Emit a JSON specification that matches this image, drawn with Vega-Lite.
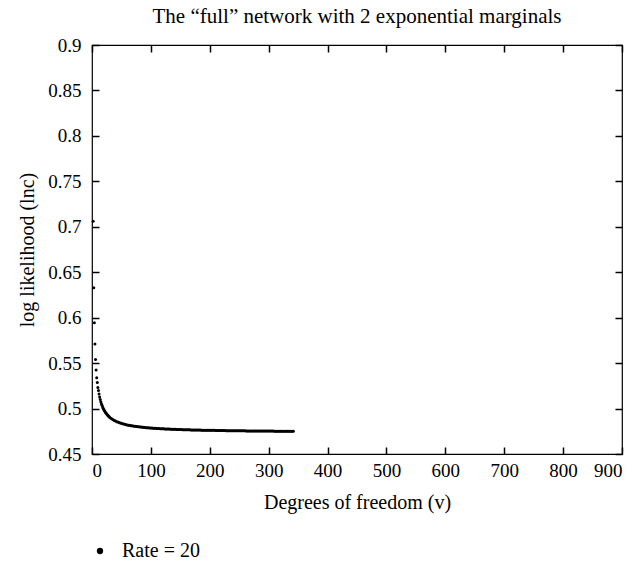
{
  "$schema": "https://vega.github.io/schema/vega-lite/v6.json",
  "width": 530,
  "height": 409,
  "autosize": "none",
  "padding": {"left": 92, "top": 45, "right": 13, "bottom": 111},
  "background": "white",
  "title": {"text": "The “full” network with 2 exponential marginals", "font": "Liberation Serif", "fontSize": 21, "fontWeight": "normal", "color": "black", "offset": 9},
  "config": {
    "view": {"stroke": "black", "strokeWidth": 1.2},
    "axis": {"grid": false, "zindex": 2, "domain": false, "offset": -7, "tickColor": "#000000", "tickOpacity": 1, "tickWidth": 1.5, "ticks": true, "tickSize": 7, "labelColor": "black", "titleColor": "black", "labelFont": "Liberation Serif", "titleFont": "Liberation Serif", "labelFontSize": 19, "titleFontSize": 20, "titleFontWeight": "normal"},
    "legend": {"labelFont": "Liberation Serif", "labelFontSize": 20, "labelColor": "black"}
  },
  "data": {"values": [
    {"df":2,"ll":0.706},{"df":3,"ll":0.633},{"df":4,"ll":0.5945},{"df":5,"ll":0.571},{"df":6,"ll":0.554},{"df":7,"ll":0.5425},{"df":8,"ll":0.534},{"df":9,"ll":0.5286},{"df":10,"ll":0.5232},
    {"df":11,"ll":0.5199},{"df":12,"ll":0.516},{"df":13,"ll":0.5127},{"df":14,"ll":0.5099},{"df":15,"ll":0.5075},{"df":16,"ll":0.5054},{"df":17,"ll":0.5035},{"df":18,"ll":0.5018},{"df":19,"ll":0.5003},{"df":20,"ll":0.499},
    {"df":21,"ll":0.4978},{"df":22,"ll":0.4967},{"df":23,"ll":0.4957},{"df":24,"ll":0.4948},{"df":25,"ll":0.4939},{"df":26,"ll":0.4931},{"df":27,"ll":0.4924},{"df":28,"ll":0.4917},{"df":29,"ll":0.4911},{"df":30,"ll":0.4905},
    {"df":32,"ll":0.4894},{"df":34,"ll":0.4885},{"df":36,"ll":0.4877},{"df":38,"ll":0.4869},{"df":40,"ll":0.4863},{"df":42,"ll":0.4856},{"df":44,"ll":0.4851},{"df":46,"ll":0.4846},{"df":48,"ll":0.4841},{"df":50,"ll":0.4837},
    {"df":52,"ll":0.4833},{"df":54,"ll":0.4829},{"df":56,"ll":0.4826},{"df":58,"ll":0.4823},{"df":60,"ll":0.482},{"df":62,"ll":0.4817},{"df":64,"ll":0.4815},{"df":66,"ll":0.4812},{"df":68,"ll":0.481},{"df":70,"ll":0.4808},
    {"df":72,"ll":0.4806},{"df":74,"ll":0.4804},{"df":76,"ll":0.4802},{"df":78,"ll":0.48},{"df":80,"ll":0.4799},{"df":82,"ll":0.4797},{"df":84,"ll":0.4796},{"df":86,"ll":0.4794},{"df":88,"ll":0.4793},{"df":90,"ll":0.4792},
    {"df":92,"ll":0.479},{"df":94,"ll":0.4789},{"df":96,"ll":0.4788},{"df":98,"ll":0.4787},{"df":100,"ll":0.4786},{"df":102,"ll":0.4785},{"df":104,"ll":0.4784},{"df":106,"ll":0.4783},{"df":108,"ll":0.4782},{"df":110,"ll":0.4781},
    {"df":112,"ll":0.4781},{"df":114,"ll":0.478},{"df":116,"ll":0.4779},{"df":118,"ll":0.4778},{"df":120,"ll":0.4778},{"df":122,"ll":0.4777},{"df":124,"ll":0.4776},{"df":126,"ll":0.4775},{"df":128,"ll":0.4775},{"df":130,"ll":0.4774},
    {"df":132,"ll":0.4774},{"df":134,"ll":0.4773},{"df":136,"ll":0.4773},{"df":138,"ll":0.4772},{"df":140,"ll":0.4771},{"df":142,"ll":0.4771},{"df":144,"ll":0.477},{"df":146,"ll":0.477},{"df":148,"ll":0.4769},{"df":150,"ll":0.4769},
    {"df":152,"ll":0.4769},{"df":154,"ll":0.4768},{"df":156,"ll":0.4768},{"df":158,"ll":0.4767},{"df":160,"ll":0.4767},{"df":162,"ll":0.4766},{"df":164,"ll":0.4766},{"df":166,"ll":0.4766},{"df":168,"ll":0.4765},{"df":170,"ll":0.4765},
    {"df":172,"ll":0.4765},{"df":174,"ll":0.4764},{"df":176,"ll":0.4764},{"df":178,"ll":0.4764},{"df":180,"ll":0.4763},{"df":182,"ll":0.4763},{"df":184,"ll":0.4763},{"df":186,"ll":0.4762},{"df":188,"ll":0.4762},{"df":190,"ll":0.4762},
    {"df":192,"ll":0.4762},{"df":194,"ll":0.4761},{"df":196,"ll":0.4761},{"df":198,"ll":0.4761},{"df":200,"ll":0.4761},{"df":202,"ll":0.476},{"df":204,"ll":0.476},{"df":206,"ll":0.476},{"df":208,"ll":0.476},{"df":210,"ll":0.4759},
    {"df":212,"ll":0.4759},{"df":214,"ll":0.4759},{"df":216,"ll":0.4759},{"df":218,"ll":0.4758},{"df":220,"ll":0.4758},{"df":222,"ll":0.4758},{"df":224,"ll":0.4758},{"df":226,"ll":0.4758},{"df":228,"ll":0.4757},{"df":230,"ll":0.4757},
    {"df":232,"ll":0.4757},{"df":234,"ll":0.4757},{"df":236,"ll":0.4757},{"df":238,"ll":0.4756},{"df":240,"ll":0.4756},{"df":242,"ll":0.4756},{"df":244,"ll":0.4756},{"df":246,"ll":0.4756},{"df":248,"ll":0.4756},{"df":250,"ll":0.4755},
    {"df":252,"ll":0.4755},{"df":254,"ll":0.4755},{"df":256,"ll":0.4755},{"df":258,"ll":0.4755},{"df":260,"ll":0.4755},{"df":262,"ll":0.4754},{"df":264,"ll":0.4754},{"df":266,"ll":0.4754},{"df":268,"ll":0.4754},{"df":270,"ll":0.4754},
    {"df":272,"ll":0.4754},{"df":274,"ll":0.4754},{"df":276,"ll":0.4753},{"df":278,"ll":0.4753},{"df":280,"ll":0.4753},{"df":282,"ll":0.4753},{"df":284,"ll":0.4753},{"df":286,"ll":0.4753},{"df":288,"ll":0.4753},{"df":290,"ll":0.4753},
    {"df":292,"ll":0.4752},{"df":294,"ll":0.4752},{"df":296,"ll":0.4752},{"df":298,"ll":0.4752},{"df":300,"ll":0.4752},{"df":302,"ll":0.4752},{"df":304,"ll":0.4752},{"df":306,"ll":0.4752},{"df":308,"ll":0.4752},{"df":310,"ll":0.4751},
    {"df":312,"ll":0.4751},{"df":314,"ll":0.4751},{"df":316,"ll":0.4751},{"df":318,"ll":0.4751},{"df":320,"ll":0.4751},{"df":322,"ll":0.4751},{"df":324,"ll":0.4751},{"df":326,"ll":0.4751},{"df":328,"ll":0.4751},{"df":330,"ll":0.475},
    {"df":332,"ll":0.475},{"df":334,"ll":0.475},{"df":336,"ll":0.475},{"df":338,"ll":0.475},{"df":340,"ll":0.475},{"df":342,"ll":0.475}
  ]},
  "layer": [
    {
      "mark": {"type": "point", "filled": true, "opacity": 1, "size": 9},
      "encoding": {
        "x": {"field": "df", "type": "quantitative", "scale": {"domain": [0, 900], "nice": false},
              "axis": {"values": [0,100,200,300,400,500,600,700,800,900], "title": "Degrees of freedom (v)", "labelPadding": 7, "titlePadding": 12}},
        "y": {"field": "ll", "type": "quantitative", "scale": {"domain": [0.45, 0.9], "nice": false, "zero": false},
              "axis": {"values": [0.45,0.5,0.55,0.6,0.65,0.7,0.75,0.8,0.85,0.9], "format": ".2~f", "title": "log likelihood (lnc)", "labelPadding": 11, "titlePadding": 10}},
        "color": {"datum": "Rate = 20", "scale": {"range": ["black"]},
                  "legend": {"title": null, "orient": "none", "legendX": -2, "legendY": 496, "symbolType": "circle", "symbolSize": 40, "symbolFillColor": "black", "symbolStrokeWidth": 0, "labelOffset": 12}}
      }
    },
    {
      "mark": {"type": "point", "opacity": 0},
      "encoding": {
        "x": {"field": "df", "type": "quantitative", "axis": {"orient": "top", "values": [0,100,200,300,400,500,600,700,800,900], "labels": false, "title": null}},
        "y": {"field": "ll", "type": "quantitative", "axis": {"orient": "right", "values": [0.45,0.5,0.55,0.6,0.65,0.7,0.75,0.8,0.85,0.9], "labels": false, "title": null}}
      }
    }
  ],
  "resolve": {"axis": {"x": "independent", "y": "independent"}}
}
